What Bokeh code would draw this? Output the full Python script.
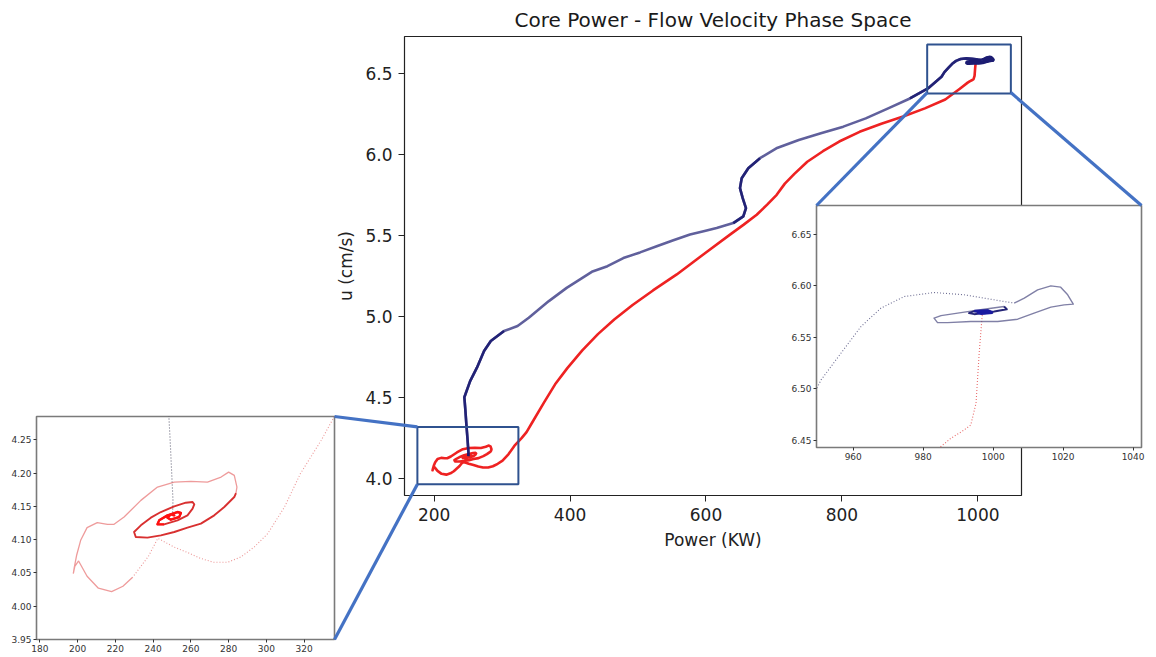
import numpy as np
from bokeh.plotting import figure
from bokeh.models import Range1d, FixedTicker, PrintfTickFormatter, GridBox
from bokeh.embed import file_html
from bokeh.resources import INLINE

# ---------------- data (Power kW, velocity cm/s) ----------------
# red: power step 1000 -> 250 kW
red_fall_x = [997.0, 996.8, 996.0, 995.1, 993.6, 991.7, 987.9, 985.0]
red_fall_y = [6.5744, 6.5686, 6.5346, 6.486, 6.4649, 6.46, 6.4519, 6.4438]
red_descent_x = [973, 952, 922, 890, 858, 826, 796, 772, 749, 730, 716, 704, 690, 674.6, 655,
                 635.3, 596, 557, 522, 492, 465, 441, 418, 396, 378, 362, 343]
red_descent_y = [6.405, 6.34, 6.285, 6.235, 6.19, 6.14, 6.08, 6.02, 5.955, 5.88, 5.82, 5.751, 5.69,
                 5.628, 5.565, 5.505, 5.382, 5.259, 5.16, 5.07, 4.98, 4.89, 4.79, 4.68, 4.58, 4.47, 4.335]
red_return_x = [336, 329, 318, 309.6, 300.7, 293.6, 286.5, 279.5, 272, 265, 258, 251, 245.8, 242.5,
                237.5, 233, 229]
red_return_y = [4.285, 4.249, 4.199, 4.149, 4.109, 4.089, 4.074, 4.066, 4.066, 4.072, 4.081, 4.089,
                4.097, 4.102, 4.075, 4.058, 4.043]
red_outer_x = [229, 224, 218, 211, 205, 200.5, 198.5, 197.7, 198.2, 199.5, 201.6, 205, 210.4, 215.8,
               219.3, 224.6, 233.5, 242.3, 251.2, 260, 268.8, 276, 280, 283, 284.4, 283.9]
red_outer_y = [4.043, 4.03, 4.022, 4.027, 4.045, 4.068, 4.06, 4.049, 4.058, 4.077, 4.099, 4.118,
               4.1255, 4.123, 4.123, 4.134, 4.159, 4.179, 4.1865, 4.1875, 4.1865, 4.194, 4.2015,
               4.1965, 4.179, 4.17]
red_inner_x = [283.9, 283.0, 277.7, 272.4, 265.3, 258.2, 251.2, 244.1, 237.0, 230.8, 229.9, 233.5,
               238.8, 244.1, 251.2, 257.3, 260.9, 261.8, 260.9, 258.2, 252.9, 245.8, 242.3, 243.2,
               247.6, 252.9, 254.7, 253.8, 249.4, 247.6, 249.4, 251.2, 250.3]
red_inner_y = [4.17, 4.164, 4.149, 4.1365, 4.124, 4.118, 4.1115, 4.1065, 4.103, 4.104, 4.1115,
               4.1215, 4.133, 4.1415, 4.15, 4.1555, 4.1565, 4.153, 4.1465, 4.1365, 4.129, 4.123,
               4.123, 4.129, 4.1365, 4.1415, 4.14, 4.134, 4.13, 4.133, 4.138, 4.1365, 4.1364]

# blue: power step 250 -> 1000 kW
blue_rise_x = [250.3, 250.5, 249.0, 247.5, 246.0, 244.5, 253, 263, 273.5, 283.4, 302.9, 322.8, 339.3,
               368.8, 395, 414.7, 432, 455, 478.4, 503, 527.5, 552, 576.5, 598, 615.7, 640.1, 654.9,
               658.8, 654, 650, 652.5, 662.2, 679.4, 703.5, 736.5, 769, 802, 835, 868, 900, 926.5, 946.5]
blue_rise_y = [4.1364, 4.16, 4.25, 4.33, 4.42, 4.50, 4.60, 4.683, 4.786, 4.848, 4.909, 4.94, 4.991,
               5.094, 5.176, 5.228, 5.275, 5.31, 5.36, 5.395, 5.433, 5.47, 5.505, 5.527, 5.546, 5.576,
               5.618, 5.669, 5.73, 5.792, 5.853, 5.915, 5.977, 6.038, 6.09, 6.131, 6.172, 6.223,
               6.285, 6.346, 6.408, 6.48]
blue_fast_x = [946.5, 950.8, 956.5, 962.2, 967.9, 974.6, 983.1, 991.7, 1000.3, 1006.0]
blue_fast_y = [6.48, 6.5086, 6.5346, 6.5604, 6.5783, 6.5896, 6.5935, 6.5913, 6.5864, 6.5832]
blue_outer_x = [1006.0, 1008.9, 1012.7, 1016.5, 1019.3, 1021.3, 1022.9, 1020.3, 1016.5, 1011.7, 1007.0,
                1001.3, 993.6, 987.0, 984.1, 983.1, 985.1, 990.8, 997.4, 1003.1]
blue_outer_y = [6.5832, 6.588, 6.5961, 6.60, 6.5987, 6.5913, 6.5822, 6.5815, 6.5793, 6.5735, 6.5676,
                6.5653, 6.5653, 6.5643, 6.5643, 6.5686, 6.5711, 6.574, 6.5773, 6.5799]
blue_inner_x = [1003.1, 1003.9, 1000.3, 994.6, 993.1, 994.6, 998.4, 999.8, 996.5, 995.5, 997.5, 997.0]
blue_inner_y = [6.5799, 6.5773, 6.575, 6.5725, 6.5735, 6.5754, 6.576, 6.574, 6.5731, 6.5742, 6.5748,
                6.5744]

# zoom boxes drawn on the main chart and inset limits
left_box_x = [175.4, 324.0]
left_box_y = [3.963, 4.316]
right_box_x = [925.4, 1048.5]
right_box_y = [6.377, 6.679]
left_inset_xlim = [178.2, 336.1]
left_inset_ylim = [3.95, 4.285]
right_inset_xlim = [949.5, 1042.4]
right_inset_ylim = [6.443, 6.678]

main_xticks = [200, 400, 600, 800, 1000]
main_yticks = [4.0, 4.5, 5.0, 5.5, 6.0, 6.5]
left_xticks = [180, 200, 220, 240, 260, 280, 300, 320]
left_yticks = [3.95, 4.00, 4.05, 4.10, 4.15, 4.20, 4.25]
right_xticks = [960, 980, 1000, 1020, 1040]
right_yticks = [6.45, 6.50, 6.55, 6.60, 6.65]

# ---------------- layout constants ----------------
W, H = 1156, 657
FONT = "DejaVu Sans"
M_L, M_R, M_T, M_B = 404, 1021, 35, 495          # main frame (px)
LI_L, LI_R, LI_T, LI_B = 36, 334, 416, 639       # left inset frame
RI_L, RI_R, RI_T, RI_B = 816, 1141, 205, 447     # right inset frame

RED = "#ee2222"
NAVY = "#1c1c72"

red_all_x = red_fall_x + red_descent_x + red_return_x + red_outer_x + red_inner_x
red_all_y = red_fall_y + red_descent_y + red_return_y + red_outer_y + red_inner_y
blue_all_x = blue_rise_x + blue_fast_x + blue_outer_x + blue_inner_x
blue_all_y = blue_rise_y + blue_fast_y + blue_outer_y + blue_inner_y

ax_all = np.array(red_all_x + blue_all_x)
ay_all = np.array(red_all_y + blue_all_y)
xpad = 0.05 * (ax_all.max() - ax_all.min())
ypad = 0.05 * (ay_all.max() - ay_all.min())
xr = (ax_all.min() - xpad, ax_all.max() + xpad)
yr = (ay_all.min() - ypad, ay_all.max() + ypad)


def style_axes(fig, size, color, tick_out, standoff):
    for ax in fig.axis:
        ax.major_label_text_font = FONT
        ax.major_label_text_font_size = size
        ax.major_label_text_color = color
        ax.major_tick_out = tick_out
        ax.major_tick_in = 0
        ax.minor_tick_out = 0
        ax.minor_tick_in = 0
        ax.major_label_standoff = standoff
        ax.axis_line_color = None
        ax.major_tick_line_color = color
    fig.grid.visible = False


# ---------------- main figure ----------------
main = figure(width=W, height=H, x_range=Range1d(*xr), y_range=Range1d(*yr),
              output_backend="svg", toolbar_location=None,
              min_border_left=M_L, min_border_right=W - M_R,
              min_border_top=M_T, min_border_bottom=H - M_B,
              title="Core Power - Flow Velocity Phase Space", margin=(0, 0, 0, 0),
              frame_align=False)
main.title.text_font = FONT
main.title.text_font_size = "20px"
main.title.text_font_style = "normal"
main.title.text_color = "#1a1a1a"
main.title.align = "center"
main.outline_line_color = "#222222"
main.outline_line_width = 1.2
style_axes(main, "17px", "#222222", 6, 6)
main.xaxis.ticker = FixedTicker(ticks=main_xticks)
main.yaxis.ticker = FixedTicker(ticks=main_yticks)
main.yaxis.formatter = PrintfTickFormatter(format="%.1f")
main.xaxis.axis_label = "Power (KW)"
main.yaxis.axis_label = "u (cm/s)"
for ax in main.axis:
    ax.axis_label_text_font = FONT
    ax.axis_label_text_font_size = "17px"
    ax.axis_label_text_font_style = "normal"
    ax.axis_label_text_color = "#222222"
    ax.axis_label_standoff = 6

main.line(red_all_x, red_all_y, line_color=RED, line_width=2.6, line_join="round")
main.line(blue_all_x, blue_all_y, line_color=NAVY, line_width=2.6, line_alpha=0.7, line_join="round")
main.line(blue_rise_x[:11], blue_rise_y[:11], line_color=NAVY, line_width=2.6, line_alpha=0.9)
main.line(blue_rise_x[25:33], blue_rise_y[25:33], line_color=NAVY, line_width=2.6, line_alpha=0.9)
main.line(blue_rise_x[39:] + blue_fast_x, blue_rise_y[39:] + blue_fast_y, line_color=NAVY,
          line_width=2.6, line_alpha=0.9)
main.line(blue_outer_x + blue_inner_x, blue_outer_y + blue_inner_y, line_color=NAVY,
          line_width=3.5, line_alpha=1.0)
BOX = "#2F528F"
main.quad(left=[left_box_x[0]], right=[left_box_x[1]], bottom=[left_box_y[0]], top=[left_box_y[1]],
          fill_alpha=0, line_color=BOX, line_width=2)
main.quad(left=[right_box_x[0]], right=[right_box_x[1]], bottom=[right_box_y[0]], top=[right_box_y[1]],
          fill_alpha=0, line_color=BOX, line_width=2)


def inset(xlim, ylim, fl, fr, ft, fb, fig_left, fig_top, fig_w, fig_h, xt, yt):
    f = figure(width=fig_w, height=fig_h, x_range=Range1d(*xlim), y_range=Range1d(*ylim),
               output_backend="svg", toolbar_location=None,
               min_border_left=fl - fig_left, min_border_right=fig_left + fig_w - fr,
               min_border_top=ft - fig_top, min_border_bottom=fig_top + fig_h - fb,
               margin=(fig_top, 0, 0, fig_left), frame_align=False)
    f.border_fill_alpha = 0
    f.background_fill_color = "white"
    f.outline_line_color = "#7a7a7a"
    f.outline_line_width = 1.6
    style_axes(f, "9px", "#333333", 3, 2)
    f.xaxis.ticker = FixedTicker(ticks=xt)
    f.yaxis.ticker = FixedTicker(ticks=yt)
    f.yaxis.formatter = PrintfTickFormatter(format="%.2f")
    return f


left = inset(left_inset_xlim, left_inset_ylim, LI_L, LI_R, LI_T, LI_B, 0, 400, 340, 257,
             left_xticks, left_yticks)
left.line(blue_rise_x[:6], blue_rise_y[:6], line_color="#404058", line_width=1.1, line_dash="1 2",
          line_alpha=0.8)
left.line(red_return_x, red_return_y, line_color="#e05050", line_width=1.1, line_dash="1 2",
          line_alpha=0.6)
left.line(red_outer_x, red_outer_y, line_color="#e04848", line_width=1.3, line_alpha=0.55)
left.line(red_inner_x, red_inner_y, line_color="#d41a1a", line_width=1.9, line_alpha=0.9,
          line_join="round")
left.line(red_inner_x[-12:], red_inner_y[-12:], line_color="#ff1010", line_width=2.4, line_alpha=1.0,
          line_join="round")

right = inset(right_inset_xlim, right_inset_ylim, RI_L, RI_R, RI_T, RI_B, 780, 190, 371, 279,
              right_xticks, right_yticks)
right.line(red_fall_x + red_descent_x[:1], red_fall_y + red_descent_y[:1], line_color="#e03a3a",
           line_width=1.1, line_dash="1 2", line_alpha=0.75)
right.line(blue_fast_x, blue_fast_y, line_color="#4a4a78", line_width=1.1, line_dash="1 2",
           line_alpha=0.8)
right.line(blue_outer_x, blue_outer_y, line_color="#4a4a80", line_width=1.4, line_alpha=0.7,
           line_join="round")
right.line(blue_inner_x, blue_inner_y, line_color="#1a1a70", line_width=2.0, line_alpha=0.95,
           line_join="round")
right.line(blue_inner_x[-7:], blue_inner_y[-7:], line_color="#1a1aa0", line_width=2.8)

# ---------------- overlay with connector lines ----------------
def to_px(x, y):
    px = M_L + (x - xr[0]) / (xr[1] - xr[0]) * (M_R - M_L)
    py = M_T + (yr[1] - y) / (yr[1] - yr[0]) * (M_B - M_T)
    return px, py


c_start = [to_px(left_box_x[0], left_box_y[1]), to_px(left_box_x[0], left_box_y[0]),
           to_px(right_box_x[0], right_box_y[0]), to_px(right_box_x[1], right_box_y[0])]
c_end = [(LI_R, LI_T), (LI_R, LI_B), (RI_L, RI_T), (RI_R, RI_T)]

over = figure(width=W, height=H, x_range=Range1d(0, W), y_range=Range1d(H, 0),
              output_backend="svg", toolbar_location=None, min_border=0, margin=(0, 0, 0, 0),
              frame_align=False)
over.axis.visible = False
over.grid.visible = False
over.outline_line_color = None
over.background_fill_alpha = 0
over.border_fill_alpha = 0
over.segment(x0=[s[0] for s in c_start], y0=[s[1] for s in c_start],
             x1=[e[0] for e in c_end], y1=[e[1] for e in c_end],
             line_color="#4472C4", line_width=3.2)

root = GridBox(children=[(main, 0, 0), (left, 0, 0), (right, 0, 0), (over, 0, 0)])
open("out.html", "w").write(file_html(root, INLINE))
